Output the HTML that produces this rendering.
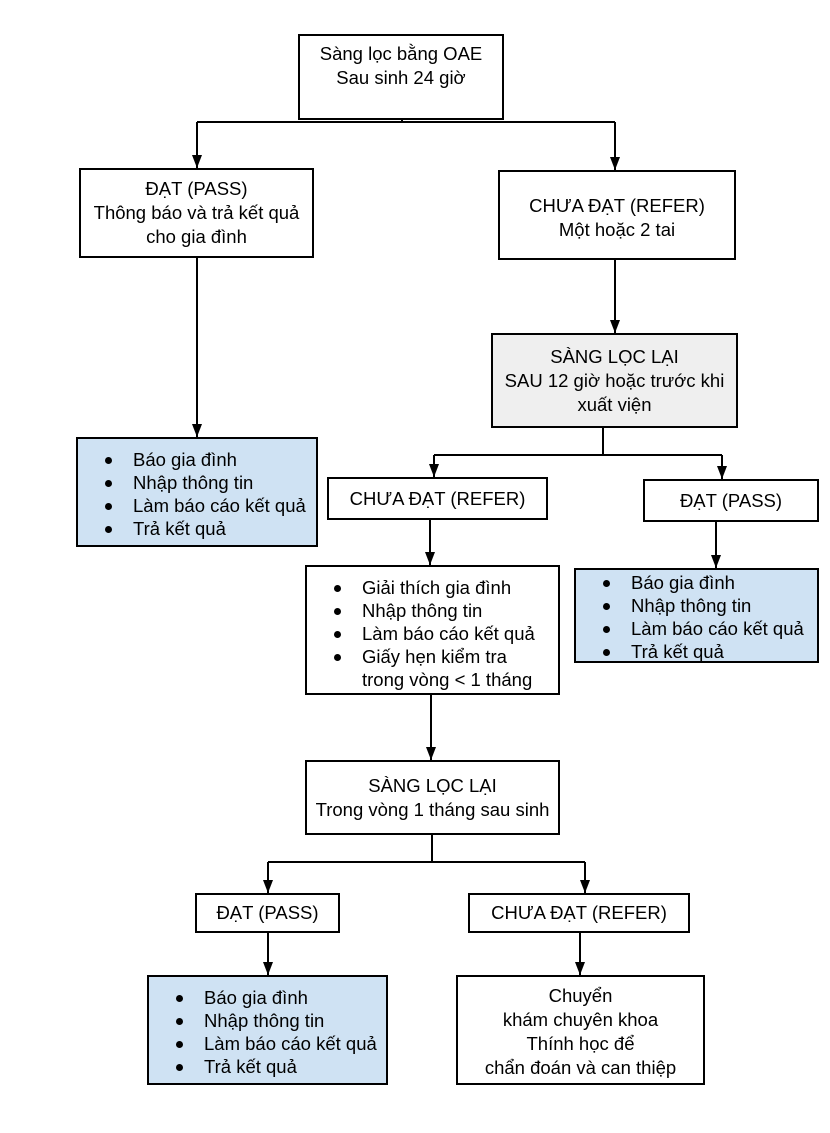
<!DOCTYPE html>
<html><head><meta charset="utf-8"><style>
body{margin:0;background:#fff;width:830px;height:1133px;position:relative;font-family:"Liberation Sans",Arial,sans-serif;font-size:18.5px;color:#000;overflow:hidden}
.b{position:absolute;box-sizing:border-box;border:2px solid #000;background:#fff;display:flex;flex-direction:column;justify-content:center;align-items:center;text-align:center;line-height:24px}
.g{background:#efefef}.bl{background:#cfe2f3}
.l{align-items:flex-start;text-align:left;line-height:23px}
ul{margin:0;padding-left:55px;list-style:none}
li{position:relative}li:before{content:"";position:absolute;left:-28px;top:9px;width:7px;height:7px;border-radius:50%;background:#000}
svg{position:absolute;left:0;top:0;z-index:2}
</style></head><body>
<svg width="830" height="1133">
<defs><marker id="a" markerWidth="14" markerHeight="12" refX="13" refY="5" orient="auto" markerUnits="userSpaceOnUse"><path d="M0,0 L13,5 L0,10 z" fill="#000"/></marker></defs>
<g stroke="#000" stroke-width="2" fill="none">
<path d="M402 120 V122 M197 122 H615"/>
<path d="M197 122 V168" marker-end="url(#a)"/>
<path d="M615 122 V170" marker-end="url(#a)"/>
<path d="M615 260 V333" marker-end="url(#a)"/>
<path d="M197 258 V437" marker-end="url(#a)"/>
<path d="M603 428 V455 M434 455 H722"/>
<path d="M434 455 V477" marker-end="url(#a)"/>
<path d="M722 455 V479" marker-end="url(#a)"/>
<path d="M430 520 V565" marker-end="url(#a)"/>
<path d="M716 522 V568" marker-end="url(#a)"/>
<path d="M431 695 V760" marker-end="url(#a)"/>
<path d="M432 835 V862 M268 862 H585"/>
<path d="M268 862 V893" marker-end="url(#a)"/>
<path d="M585 862 V893" marker-end="url(#a)"/>
<path d="M268 933 V975" marker-end="url(#a)"/>
<path d="M580 933 V975" marker-end="url(#a)"/>
</g></svg>
<div class="b" style="left:298px;top:34px;width:206px;height:86px;padding-bottom:22px">Sàng lọc bằng OAE<br>Sau sinh 24 giờ</div>
<div class="b" style="left:79px;top:168px;width:235px;height:90px">ĐẠT (PASS)<br>Thông báo và trả kết quả<br>cho gia đình</div>
<div class="b" style="left:498px;top:170px;width:238px;height:90px;padding-top:6px">CHƯA ĐẠT (REFER)<br>Một hoặc 2 tai</div>
<div class="b g" style="left:491px;top:333px;width:247px;height:95px">SÀNG LỌC LẠI<br>SAU 12 giờ hoặc trước khi<br>xuất viện</div>
<div class="b bl l" style="left:76px;top:437px;width:242px;height:110px;padding-top:4px"><ul><li>Báo gia đình</li><li>Nhập thông tin</li><li>Làm báo cáo kết quả</li><li>Trả kết quả</li></ul></div>
<div class="b" style="left:327px;top:477px;width:221px;height:43px">CHƯA ĐẠT (REFER)</div>
<div class="b" style="left:643px;top:479px;width:176px;height:43px">ĐẠT (PASS)</div>
<div class="b l" style="left:305px;top:565px;width:255px;height:130px;padding-top:6px"><ul><li>Giải thích gia đình</li><li>Nhập thông tin</li><li>Làm báo cáo kết quả</li><li>Giấy hẹn kiểm tra<br>trong vòng &lt; 1 tháng</li></ul></div>
<div class="b bl l" style="left:574px;top:568px;width:245px;height:95px;padding-top:2px"><ul><li>Báo gia đình</li><li>Nhập thông tin</li><li>Làm báo cáo kết quả</li><li>Trả kết quả</li></ul></div>
<div class="b" style="left:305px;top:760px;width:255px;height:75px">SÀNG LỌC LẠI<br>Trong vòng 1 tháng sau sinh</div>
<div class="b" style="left:195px;top:893px;width:145px;height:40px">ĐẠT (PASS)</div>
<div class="b" style="left:468px;top:893px;width:222px;height:40px">CHƯA ĐẠT (REFER)</div>
<div class="b bl l" style="left:147px;top:975px;width:241px;height:110px;padding-top:4px"><ul><li>Báo gia đình</li><li>Nhập thông tin</li><li>Làm báo cáo kết quả</li><li>Trả kết quả</li></ul></div>
<div class="b" style="left:456px;top:975px;width:249px;height:110px;padding-top:4px">Chuyển<br>khám chuyên khoa<br>Thính học để<br>chẩn đoán và can thiệp</div>
</body></html>
